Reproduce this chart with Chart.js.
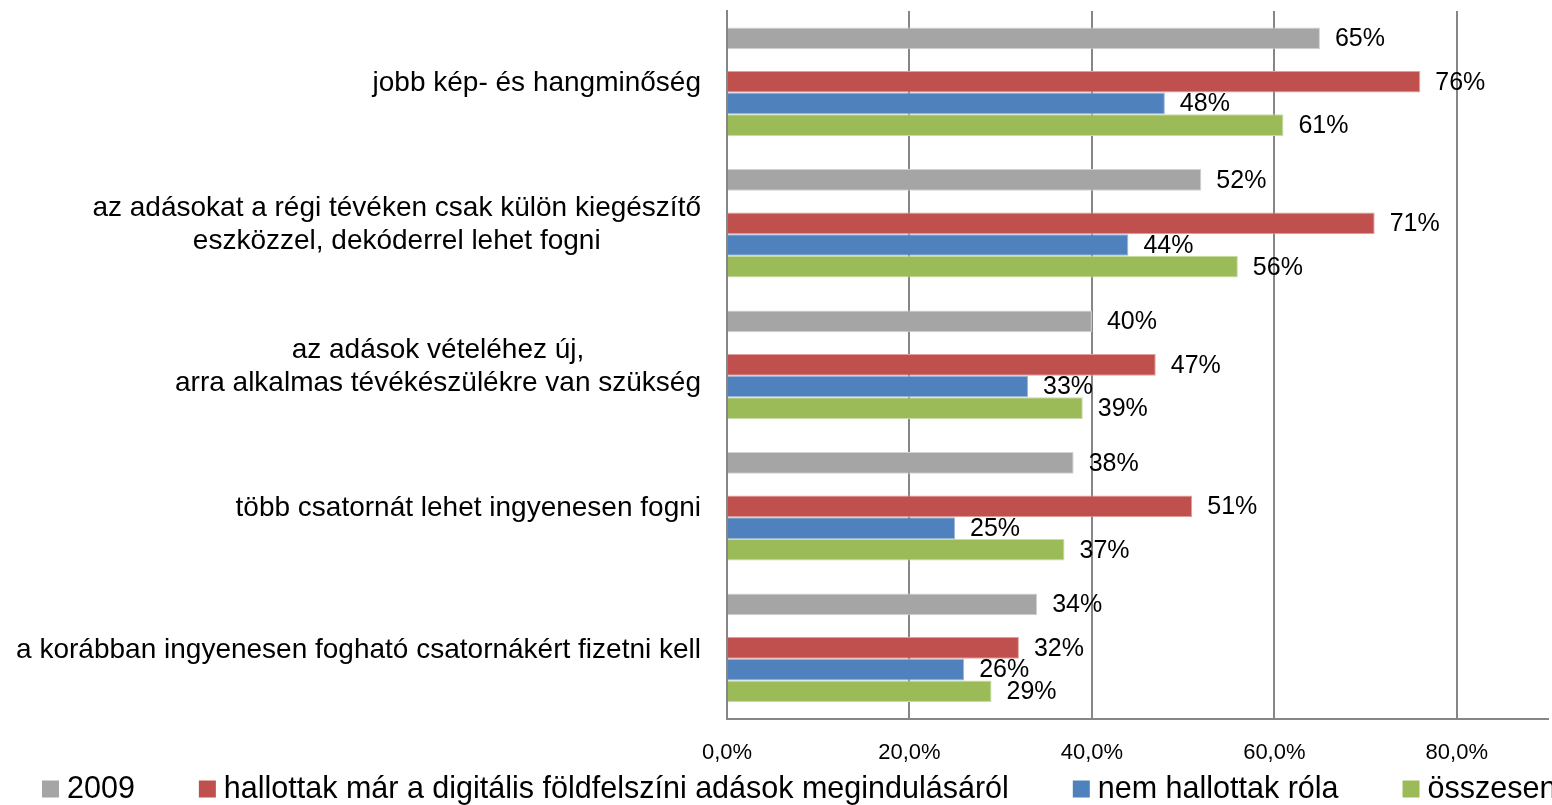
<!DOCTYPE html>
<html lang="hu">
<head>
<meta charset="UTF-8" />
<title>Digitális földfelszíni adások</title>
<script src="https://cdn.jsdelivr.net/npm/chart.js"></script>
<style>
  html, body { margin: 0; padding: 0; background: #fff; }
  #wrap { width: 1552px; height: 805px; }
</style>
</head>
<body>
<div id="wrap"><canvas id="chart" width="1552" height="805"></canvas></div>
<script>
// kategóriák (többsoros címkék tömbként)
const categories = [
  ["jobb kép- és hangminőség"],
  ["az adásokat a régi tévéken csak külön kiegészítő", "eszközzel, dekóderrel lehet fogni"],
  ["az adások vételéhez új,", "arra alkalmas tévékészülékre van szükség"],
  ["több csatornát lehet ingyenesen fogni"],
  ["a korábban ingyenesen fogható csatornákért fizetni kell"]
];

const seriesNames = [
  "2009",
  "hallottak már a digitális földfelszíni adások megindulásáról",
  "nem hallottak róla",
  "összesen"
];

const values2009 = [65, 52, 40, 38, 34];
const valuesHallottak = [76, 71, 47, 51, 32];
const valuesNem = [48, 44, 33, 25, 26];
const valuesOsszesen = [61, 56, 39, 37, 29];

const xTicks = [0, 20, 40, 60, 80];

const colors = ["#A5A5A5", "#C0504D", "#4F81BD", "#9BBB59"];
const borders = ["#D2D2D2", "#E0A09E", "#9DB7DB", "#C9DBA8"];

const labelFont = "Liberation Sans, Arial, sans-serif";

function ds(i, data) {
  return {
    label: seriesNames[i],
    data: data,
    backgroundColor: colors[i],
    borderColor: borders[i],
    borderWidth: 1,
    borderSkipped: "start"
  };
}

const datasets = [
  ds(0, values2009),
  // üres sor a 2009-es oszlop és a többi között
  { label: "", data: categories.map(() => null), backgroundColor: "rgba(0,0,0,0)" },
  ds(1, valuesHallottak),
  ds(2, valuesNem),
  ds(3, valuesOsszesen)
];

// a kategória címkék: jobbra zárt blokk, soronként középre igazítva
const categoryLabels = {
  id: "categoryLabels",
  afterDraw(chart) {
    const ctx = chart.ctx;
    const y = chart.scales.y;
    const rightEdge = chart.chartArea.left - 26;
    const lineH = 33;
    ctx.save();
    ctx.font = "28px " + labelFont;
    ctx.fillStyle = "#000";
    ctx.textBaseline = "middle";
    ctx.textAlign = "center";
    categories.forEach((lines, i) => {
      const cy = y.getPixelForValue(i) + 2;
      const widest = Math.max(...lines.map(l => ctx.measureText(l).width));
      const cx = rightEdge - widest / 2;
      const y0 = cy - (lines.length - 1) * lineH / 2;
      lines.forEach((l, k) => ctx.fillText(l, cx, y0 + k * lineH));
    });
    ctx.restore();
  }
};

// értékcímkék a sávok végén
const valueLabels = {
  id: "valueLabels",
  afterDatasetsDraw(chart) {
    const ctx = chart.ctx;
    ctx.save();
    ctx.font = "25px " + labelFont;
    ctx.fillStyle = "#000";
    ctx.textBaseline = "middle";
    ctx.textAlign = "left";
    chart.data.datasets.forEach((d, di) => {
      if (!d.label) return;
      const meta = chart.getDatasetMeta(di);
      meta.data.forEach((bar, i) => {
        if (d.data[i] == null) return;
        ctx.fillText(d.data[i] + "%", bar.x + 15, bar.y + 1);
      });
    });
    ctx.restore();
  }
};

// jelmagyarázat egy sorban, a vászon aljára
const bottomLegend = {
  id: "bottomLegend",
  afterDraw(chart) {
    const ctx = chart.ctx;
    const box = 17, gap = 8, spacing = 64, cy = 789;
    let x = 42;
    ctx.save();
    ctx.font = "30.5px " + labelFont;
    ctx.textBaseline = "middle";
    ctx.textAlign = "left";
    chart.data.datasets.forEach(d => {
      if (!d.label) return;
      ctx.fillStyle = d.backgroundColor;
      ctx.fillRect(x, cy - box / 2, box, box);
      ctx.fillStyle = "#000";
      ctx.fillText(d.label, x + box + gap, cy + 1);
      x += box + gap + ctx.measureText(d.label).width + spacing;
    });
    ctx.restore();
  }
};

new Chart(document.getElementById("chart"), {
  type: "bar",
  data: { labels: categories.map(c => c.join(" ")), datasets: datasets },
  plugins: [categoryLabels, valueLabels, bottomLegend],
  options: {
    indexAxis: "y",
    responsive: false,
    animation: false,
    layout: { padding: { top: 11, right: 4, left: 0, bottom: 18 } },
    datasets: { bar: { categoryPercentage: 0.767, barPercentage: 1 } },
    scales: {
      y: {
        ticks: { display: false },
        grid: { display: false },
        border: { display: true, color: "#868686", width: 2 },
        afterFit(scale) { scale.width = 727; }
      },
      x: {
        min: 0,
        max: 90,
        afterBuildTicks(scale) {
          scale.ticks = xTicks.map(v => ({ value: v }));
        },
        ticks: {
          padding: 21,
          color: "#000",
          font: { family: labelFont, size: 22 },
          callback: v => v.toFixed(1).replace(".", ",") + "%"
        },
        grid: { color: "#868686", lineWidth: 2, drawTicks: false },
        border: { display: true, color: "#868686", width: 2 }
      }
    },
    plugins: {
      tooltip: { enabled: false },
      legend: { display: false }
    }
  }
});
</script>
</body>
</html>
